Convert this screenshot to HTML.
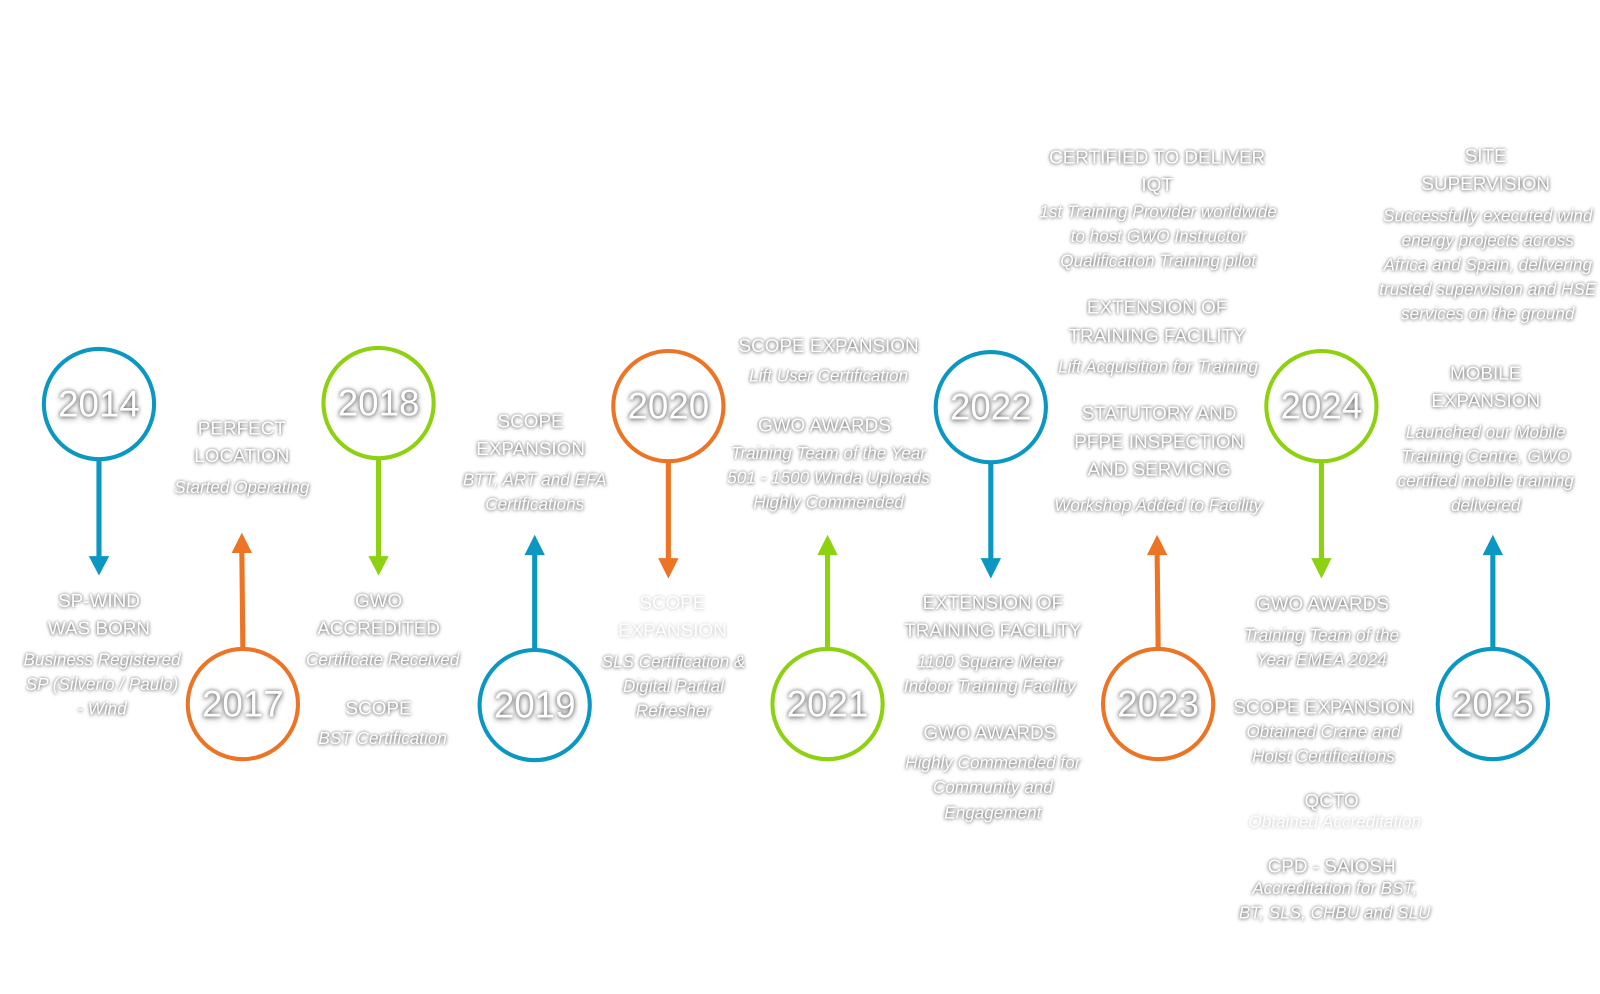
<!DOCTYPE html>
<html><head><meta charset="utf-8"><style>
body{margin:0;width:1600px;height:974px;background:#fff;position:relative;overflow:hidden;font-family:"Liberation Sans",sans-serif;}
#w{position:absolute;left:0;top:0;width:1568px;height:955px;transform:scale(1.0204);transform-origin:0 0;}
.l{position:absolute;transform:translateX(-50%);white-space:nowrap;color:#fff;text-align:center;}
.t{font-size:18.5px;line-height:22px;text-shadow:0 0 3px rgba(0,0,0,.55),0 1px 4px rgba(0,0,0,.35);}
.s{font-size:16.8px;font-style:italic;line-height:20px;text-shadow:0 0 3px rgba(0,0,0,.55),0 1px 4px rgba(0,0,0,.35);}
.f{opacity:.35}
.y{font-size:36px;line-height:40px;text-shadow:0 0 4px rgba(0,0,0,.6),0 2px 6px rgba(0,0,0,.4);}
svg{position:absolute;left:0;top:0}
</style></head><body><div id="w">
<svg width="1600" height="974">
<g fill="none" stroke-width="4">
<circle cx="97" cy="396" r="54" stroke="#0a97c2"/>
<circle cx="238" cy="690" r="54" stroke="#ed7424"/>
<circle cx="371" cy="395" r="54" stroke="#8dd110"/>
<circle cx="524" cy="691" r="54" stroke="#0a97c2"/>
<circle cx="655" cy="398" r="54" stroke="#ed7424"/>
<circle cx="811" cy="690" r="54" stroke="#8dd110"/>
<circle cx="971" cy="399" r="54" stroke="#0a97c2"/>
<circle cx="1135" cy="690" r="54" stroke="#ed7424"/>
<circle cx="1295" cy="398" r="54" stroke="#8dd110"/>
<circle cx="1463" cy="690" r="54" stroke="#0a97c2"/>
</g>
<g stroke-width="5">
<line x1="97" y1="450" x2="97" y2="550" stroke="#0a97c2"/>
<line x1="238" y1="636" x2="237" y2="540" stroke="#ed7424"/>
<line x1="371" y1="449" x2="371" y2="550" stroke="#8dd110"/>
<line x1="524" y1="637" x2="524" y2="542" stroke="#0a97c2"/>
<line x1="655" y1="452" x2="655" y2="552" stroke="#ed7424"/>
<line x1="811" y1="636" x2="811" y2="542" stroke="#8dd110"/>
<line x1="971" y1="453" x2="971" y2="552" stroke="#0a97c2"/>
<line x1="1135" y1="636" x2="1134" y2="542" stroke="#ed7424"/>
<line x1="1295" y1="452" x2="1295" y2="552" stroke="#8dd110"/>
<line x1="1463" y1="636" x2="1463" y2="542" stroke="#0a97c2"/>
</g>
<polygon points="87,545 107,545 97,564" fill="#0a97c2"/>
<polygon points="227,542 247,542 237,522" fill="#ed7424"/>
<polygon points="361,545 381,545 371,564" fill="#8dd110"/>
<polygon points="514,544 534,544 524,524" fill="#0a97c2"/>
<polygon points="645,547 665,547 655,567" fill="#ed7424"/>
<polygon points="801,544 821,544 811,524" fill="#8dd110"/>
<polygon points="961,547 981,547 971,567" fill="#0a97c2"/>
<polygon points="1124,544 1144,544 1134,524" fill="#ed7424"/>
<polygon points="1285,547 1305,547 1295,567" fill="#8dd110"/>
<polygon points="1453,544 1473,544 1463,524" fill="#0a97c2"/>
</svg>

<div class="l y" style="left:97px;top:376px">2014</div>
<div class="l y" style="left:238px;top:670px">2017</div>
<div class="l y" style="left:371px;top:375px">2018</div>
<div class="l y" style="left:524px;top:671px">2019</div>
<div class="l y" style="left:655px;top:378px">2020</div>
<div class="l y" style="left:811px;top:670px">2021</div>
<div class="l y" style="left:971px;top:379px">2022</div>
<div class="l y" style="left:1135px;top:670px">2023</div>
<div class="l y" style="left:1295px;top:378px">2024</div>
<div class="l y" style="left:1463px;top:670px">2025</div>

<div class="l t" style="left:97px;top:578px">SP-WIND</div>
<div class="l t" style="left:97px;top:605px">WAS BORN</div>
<div class="l s" style="left:100px;top:637px">Business Registered</div>
<div class="l s" style="left:100px;top:661px">SP (Silverio / Paulo)</div>
<div class="l s" style="left:100px;top:685px">- Wind</div>

<div class="l t" style="left:237px;top:409px">PERFECT</div>
<div class="l t" style="left:237px;top:436px">LOCATION</div>
<div class="l s" style="left:237px;top:468px">Started Operating</div>

<div class="l t" style="left:371px;top:578px">GWO</div>
<div class="l t" style="left:371px;top:605px">ACCREDITED</div>
<div class="l s" style="left:375px;top:637px">Certificate Received</div>
<div class="l t" style="left:371px;top:683px">SCOPE</div>
<div class="l s" style="left:375px;top:714px">BST Certification</div>

<div class="l t" style="left:520px;top:402px">SCOPE</div>
<div class="l t" style="left:520px;top:429px">EXPANSION</div>
<div class="l s" style="left:524px;top:461px">BTT, ART and EFA</div>
<div class="l s" style="left:524px;top:485px">Certifications</div>

<div class="l t f" style="left:659px;top:580px">SCOPE</div>
<div class="l t f" style="left:659px;top:607px">EXPANSION</div>
<div class="l s" style="left:660px;top:639px">SLS Certification &amp;</div>
<div class="l s" style="left:660px;top:663px">Digital Partial</div>
<div class="l s" style="left:660px;top:687px">Refresher</div>

<div class="l t" style="left:812px;top:328px">SCOPE EXPANSION</div>
<div class="l s" style="left:812px;top:359px">Lift User Certification</div>
<div class="l t" style="left:808px;top:406px">GWO AWARDS</div>
<div class="l s" style="left:812px;top:435px">Training Team of the Year</div>
<div class="l s" style="left:812px;top:459px">501 - 1500 Winda Uploads</div>
<div class="l s" style="left:812px;top:483px">Highly Commended</div>

<div class="l t" style="left:973px;top:580px">EXTENSION OF</div>
<div class="l t" style="left:973px;top:607px">TRAINING FACILITY</div>
<div class="l s" style="left:970px;top:639px">1100 Square Meter</div>
<div class="l s" style="left:970px;top:663px">Indoor Training Facility</div>
<div class="l t" style="left:970px;top:707px">GWO AWARDS</div>
<div class="l s" style="left:973px;top:738px">Highly Commended for</div>
<div class="l s" style="left:973px;top:762px">Community and</div>
<div class="l s" style="left:973px;top:787px">Engagement</div>

<div class="l t" style="left:1134px;top:143px">CERTIFIED TO DELIVER</div>
<div class="l t" style="left:1134px;top:170px">IQT</div>
<div class="l s" style="left:1135px;top:198px">1st Training Provider worldwide</div>
<div class="l s" style="left:1135px;top:222px">to host GWO Instructor</div>
<div class="l s" style="left:1135px;top:246px">Qualification Training pilot</div>
<div class="l t" style="left:1134px;top:290px">EXTENSION OF</div>
<div class="l t" style="left:1134px;top:318px">TRAINING FACILITY</div>
<div class="l s" style="left:1135px;top:350px">Lift Acquisition for Training</div>
<div class="l t" style="left:1136px;top:394px">STATUTORY AND</div>
<div class="l t" style="left:1136px;top:422px">PFPE INSPECTION</div>
<div class="l t" style="left:1136px;top:449px">AND SERVICNG</div>
<div class="l s" style="left:1135px;top:486px">Workshop Added to Facility</div>

<div class="l t" style="left:1296px;top:581px">GWO AWARDS</div>
<div class="l s" style="left:1295px;top:613px">Training Team of the</div>
<div class="l s" style="left:1295px;top:637px">Year EMEA 2024</div>
<div class="l t" style="left:1297px;top:682px">SCOPE EXPANSION</div>
<div class="l s" style="left:1297px;top:708px">Obtained Crane and</div>
<div class="l s" style="left:1297px;top:732px">Hoist Certifications</div>
<div class="l t" style="left:1305px;top:774px">QCTO</div>
<div class="l s f" style="left:1308px;top:796px">Obtained Accreditation</div>
<div class="l t" style="left:1305px;top:838px">CPD - SAIOSH</div>
<div class="l s" style="left:1308px;top:861px">Accreditation for BST,</div>
<div class="l s" style="left:1308px;top:885px">BT, SLS, CHBU and SLU</div>

<div class="l t" style="left:1456px;top:142px">SITE</div>
<div class="l t" style="left:1456px;top:169px">SUPERVISION</div>
<div class="l s" style="left:1458px;top:202px">Successfully executed wind</div>
<div class="l s" style="left:1458px;top:226px">energy projects across</div>
<div class="l s" style="left:1458px;top:250px">Africa and Spain, delivering</div>
<div class="l s" style="left:1458px;top:274px">trusted supervision and HSE</div>
<div class="l s" style="left:1458px;top:298px">services on the ground</div>
<div class="l t" style="left:1456px;top:355px">MOBILE</div>
<div class="l t" style="left:1456px;top:382px">EXPANSION</div>
<div class="l s" style="left:1456px;top:414px">Launched our Mobile</div>
<div class="l s" style="left:1456px;top:438px">Training Centre, GWO</div>
<div class="l s" style="left:1456px;top:462px">certified mobile training</div>
<div class="l s" style="left:1456px;top:486px">delivered</div>
</div></body></html>
